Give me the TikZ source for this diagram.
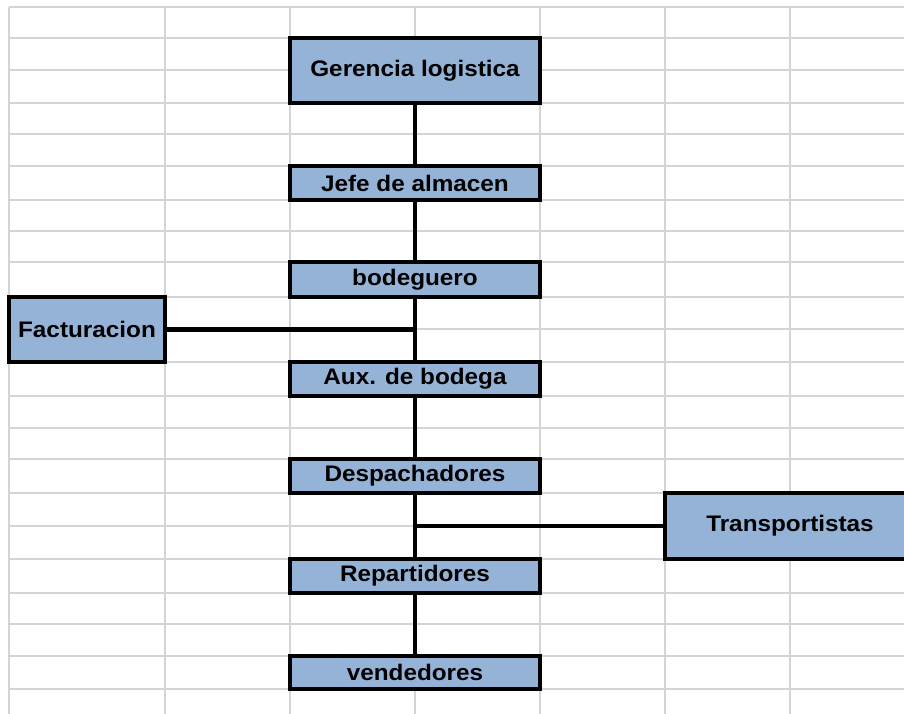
\documentclass[tikz,border=0pt]{standalone}
\usepackage{fontspec}
\setmainfont{Liberation Sans}[FakeStretch=1.08]
\begin{document}
\begin{tikzpicture}[x=1pt,y=-1pt,
  gridline/.style={draw=gridgray,line width=1.5pt},
  orgbox/.style={draw=black,line width=4pt,fill=boxblue,minimum width=250pt,
    inner sep=0pt,font=\fontsize{22.5}{24}\selectfont\bfseries,anchor=center},
  leftbox/.style={orgbox,minimum width=156pt},
  conn/.style={draw=black,line width=4.2pt}]
\definecolor{gridgray}{HTML}{D4D4D4}
\definecolor{boxblue}{HTML}{95B3D7}
\useasboundingbox (0,0) rectangle (904,714);
\clip (0,0) rectangle (904,714);
\fill[white] (0,0) rectangle (904,714);
% grid
\foreach \yy in {7,38,70,103,134,166,200,231,262,297,329,362,396,428,459,493,526,559,593,624,656,689}
  \draw[gridline] (9,\yy) -- (910,\yy);
\foreach \xx in {9,165,290,415,540,665,790}
  \draw[gridline] (\xx,7) -- (\xx,720);
% nodes
\node[orgbox,minimum height=65pt] (ger) at (415,70.5) {Gerencia logistica};
\node[orgbox,minimum height=34pt] (jefe) at (415,183) {Jefe de almacen};
\node[orgbox,minimum height=35pt] (bod) at (415,279.5) {bodeguero};
\node[leftbox,minimum height=65pt] (fac) at (87,329.5) {Facturacion};
\node[orgbox,minimum height=34pt] (aux) at (415,379) {Aux. de bodega};
\node[orgbox,minimum height=34pt] (desp) at (415,476) {Despachadores};
\node[orgbox,minimum height=66pt] (trans) at (790,526) {Transportistas};
\node[orgbox,minimum height=34pt] (rep) at (415,576) {Repartidores};
\node[orgbox,minimum height=33pt] (vend) at (415,672.5) {vendedores};
% connectors
\draw[conn] (ger.south) -- (jefe.north);
\draw[conn] (jefe.south) -- (bod.north);
\draw[conn] (bod.south) -- (aux.north);
\draw[conn] (fac.east) -- (fac.east -| bod.south);
\draw[conn] (aux.south) -- (desp.north);
\draw[conn] (desp.south) -- (rep.north);
\draw[conn] (trans.west) -- (trans.west -| desp.south);
\draw[conn] (rep.south) -- (vend.north);
\end{tikzpicture}
\end{document}
